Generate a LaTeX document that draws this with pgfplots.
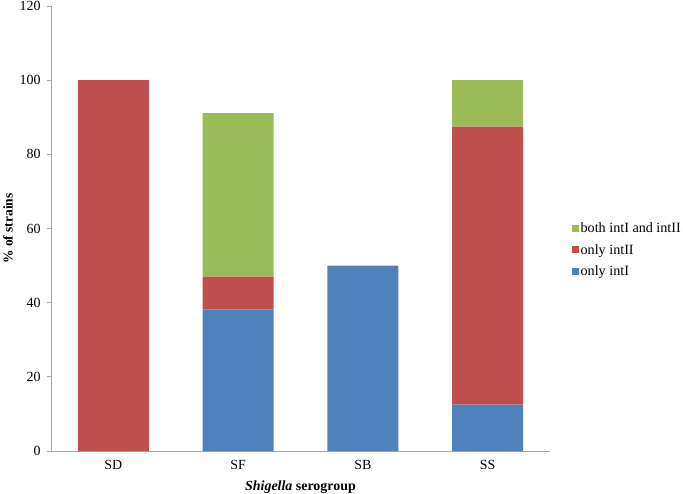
\documentclass[border=0pt]{standalone}
\usepackage{pgfplots}
\pgfplotsset{compat=1.18}
\usepackage{fontspec}
\setmainfont{Liberation Serif}
\definecolor{cblue}{HTML}{4F81BD}
\definecolor{cred}{HTML}{C0504D}
\definecolor{cgreen}{HTML}{9BBB59}
\definecolor{axgrey}{HTML}{A6A6A6}
\begin{document}
\begin{tikzpicture}
\path[use as bounding box] (-51bp,-43bp) rectangle (632bp,451bp);
\begin{axis}[
  scale only axis,
  width=499bp, height=445bp,
  at={(0,0)}, anchor=south west,
  ybar stacked,
  bar width=71bp,
  xmin=-0.5, xmax=3.5,
  ymin=0, ymax=120,
  ytick={0,20,...,120},
  xtick={0,1,2,3},
  xticklabels={SD,SF,SB,SS},
  /pgf/number format/assume math mode=true,
  tick label style={font=\fontsize{14}{16}\selectfont},
  axis x line*=bottom,
  axis y line*=left,
  axis line style={axgrey, line width=0.8pt, -},
  x axis line style={-},
  y axis line style={-},
  xtick style={draw=none},
  ytick style={axgrey, line width=0.8pt},
  tick align=outside,
  major tick length=4bp,
  xticklabel style={yshift=-2bp},
  yticklabel style={xshift=-3bp},
  ylabel={\textbf{\% of strains}},
  ylabel style={font=\fontsize{13.5}{15}\selectfont, at={(-43bp,0.5)}, anchor=center},
  xlabel={\textbf{\textit{Shigella} serogroup}},
  xlabel style={font=\fontsize{14}{16}\selectfont, at={(0.5,-36bp)}, anchor=center},
  legend style={draw=none, at={(1.043,0.452)}, anchor=west, font=\fontsize{14.2}{16}\selectfont, row sep=6bp, inner sep=0pt},
  legend cell align=left,
  reverse legend,
  legend image code/.code={\fill[#1] (0bp,-3.5bp) rectangle (7bp,3.5bp);},
]
\addplot[fill=cblue, draw=none] coordinates {(0,0) (1,38.2) (2,50) (3,12.5)};
\addplot[fill=cred, draw=none] coordinates {(0,100) (1,8.8) (2,0) (3,75)};
\addplot[fill=cgreen, draw=none] coordinates {(0,0) (1,44.1) (2,0) (3,12.5)};
\legend{only intI, only intII, both intI and intII}
\end{axis}
\end{tikzpicture}
\end{document}
